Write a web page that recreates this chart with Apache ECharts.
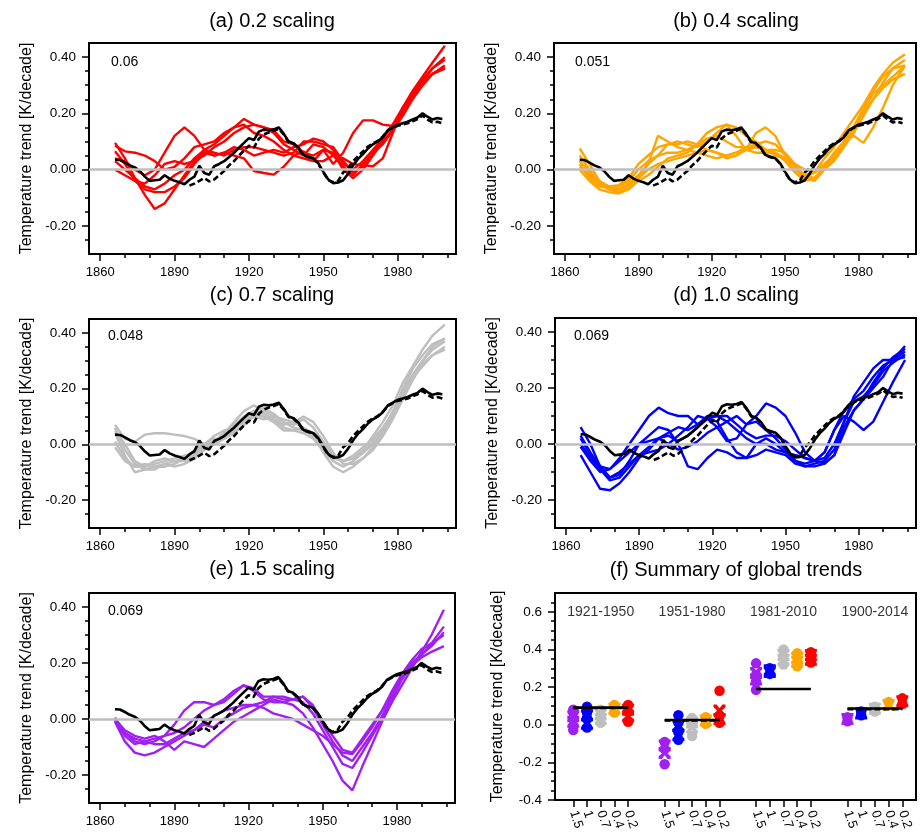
<!DOCTYPE html>
<html><head><meta charset="utf-8">
<script src="https://cdn.jsdelivr.net/npm/echarts@6/dist/echarts.min.js"></script>
<style>html,body{margin:0;padding:0;background:#fff}#c{width:922px;height:833px}</style>
</head><body><div id="c"></div>
<script>
// ================= DATA =================
// sample years for the model runs (30-yr running trends, centre year)
const runYears = [1866,1870,1874,1878,1882,1886,1890,1894,1898,1902,1906,1910,1914,1918,1922,1926,1930,1934,1938,1942,1946,1950,1954,1958,1962,1966,1970,1974,1978,1982,1986,1990,1994,1999];

// observations (black solid from 1866, black dashed from 1896), every 2 years
const obsYears = []; for (let y = 1866; y <= 1998; y += 2) obsYears.push(y);
const obsSolid = [0.035,0.034,0.025,0.015,0.008,-0.005,-0.025,-0.040,-0.038,-0.036,-0.020,-0.032,-0.040,-0.045,-0.052,-0.036,-0.025,0.014,-0.012,-0.018,0.012,0.020,0.030,0.045,0.060,0.078,0.095,0.112,0.105,0.135,0.142,0.140,0.143,0.150,0.128,0.100,0.094,0.078,0.052,0.046,0.040,0.022,-0.008,-0.035,-0.048,-0.046,-0.038,-0.015,0.015,0.038,0.055,0.075,0.090,0.100,0.115,0.140,0.150,0.160,0.165,0.170,0.178,0.185,0.200,0.188,0.178,0.183,0.180];
const obsDashedYears = []; for (let y = 1896; y <= 1998; y += 2) obsDashedYears.push(y);
const obsDashed = [-0.057,-0.050,-0.040,-0.030,-0.042,-0.035,-0.020,-0.005,0.015,0.030,0.050,0.068,0.085,0.078,0.110,0.125,0.132,0.138,0.145,0.125,0.098,0.092,0.075,0.050,0.044,0.040,0.020,-0.010,-0.038,-0.045,-0.040,-0.010,0.005,0.030,0.048,0.065,0.082,0.093,0.102,0.118,0.138,0.148,0.156,0.160,0.165,0.172,0.180,0.192,0.178,0.168,0.170,0.165];

// (a) 0.2 scaling runs
const runs02 = [
 [0.095,0.04,-0.03,-0.09,-0.14,-0.12,-0.07,-0.02,0.03,0.07,0.09,0.12,0.15,0.18,0.16,0.15,0.13,0.09,0.07,0.05,0.09,0.08,0.05,0.01,-0.02,0.02,0.06,0.09,0.14,0.22,0.28,0.33,0.38,0.44],
 [0.04,0.03,0.0,-0.02,0.0,0.06,0.12,0.15,0.12,0.07,0.05,0.06,0.08,0.07,0.05,0.06,0.07,0.06,0.08,0.09,0.11,0.10,0.07,0.02,0.0,0.03,0.07,0.11,0.16,0.21,0.26,0.31,0.36,0.40],
 [0.065,0.02,-0.04,-0.07,-0.08,-0.08,-0.06,-0.03,0.02,0.06,0.05,0.06,0.05,0.04,-0.005,-0.012,-0.018,0.01,0.05,0.065,0.03,0.03,0.05,0.04,0.02,0.015,0.012,0.04,0.13,0.22,0.27,0.32,0.36,0.39],
 [0.085,0.065,0.06,0.05,0.03,0.0,0.01,0.04,0.08,0.09,0.10,0.13,0.15,0.16,0.13,0.12,0.10,0.07,0.05,0.04,0.03,0.07,0.02,0.06,0.13,0.175,0.175,0.16,0.155,0.20,0.26,0.30,0.34,0.36],
 [0.0,-0.02,-0.04,-0.05,-0.02,0.02,0.03,0.02,0.03,0.05,0.08,0.10,0.13,0.15,0.16,0.15,0.14,0.10,0.09,0.06,0.05,0.07,0.06,0.0,-0.03,0.0,0.05,0.10,0.14,0.19,0.25,0.30,0.34,0.37],
 [0.03,0.0,-0.03,-0.06,-0.07,-0.05,-0.02,0.0,0.04,0.07,0.06,0.05,0.07,0.08,0.08,0.07,0.06,0.05,0.06,0.10,0.10,0.09,0.08,0.03,-0.01,0.01,0.06,0.11,0.16,0.22,0.27,0.31,0.34,0.36]
];
// (b) 0.4 scaling runs
const runs04 = [
 [0.075,0.02,-0.04,-0.06,-0.07,-0.05,-0.02,0.02,0.05,0.09,0.10,0.09,0.08,0.10,0.13,0.16,0.15,0.12,0.10,0.07,0.05,0.04,0.0,-0.03,-0.01,0.04,0.08,0.13,0.18,0.23,0.29,0.34,0.38,0.41],
 [0.05,0.0,-0.05,-0.07,-0.08,-0.06,-0.03,0.02,0.12,0.10,0.08,0.07,0.06,0.05,0.04,0.05,0.06,0.07,0.13,0.15,0.12,0.05,0.01,-0.02,-0.03,0.01,0.06,0.10,0.15,0.22,0.28,0.33,0.36,0.37],
 [0.03,-0.01,-0.05,-0.06,-0.055,-0.03,0.02,0.05,0.08,0.09,0.09,0.10,0.09,0.07,0.06,0.05,0.06,0.08,0.08,0.07,0.06,0.04,0.02,-0.03,-0.04,0.0,0.05,0.10,0.12,0.095,0.15,0.22,0.30,0.37],
 [0.02,-0.03,-0.06,-0.065,-0.06,-0.04,0.0,0.03,0.05,0.06,0.06,0.07,0.09,0.11,0.12,0.10,0.08,0.08,0.09,0.10,0.09,0.05,0.01,-0.02,-0.01,0.02,0.05,0.09,0.14,0.20,0.25,0.29,0.32,0.34],
 [0.01,-0.02,-0.05,-0.07,-0.07,-0.05,-0.03,0.0,0.02,0.03,0.04,0.05,0.06,0.07,0.06,0.04,0.05,0.07,0.08,0.07,0.07,0.06,0.02,0.0,-0.01,0.01,0.04,0.09,0.15,0.21,0.27,0.30,0.33,0.37],
 [0.0,-0.04,-0.07,-0.08,-0.085,-0.07,-0.04,-0.02,0.01,0.04,0.05,0.06,0.09,0.13,0.15,0.16,0.12,0.07,0.06,0.06,0.06,0.03,-0.01,-0.04,-0.03,0.0,0.03,0.08,0.13,0.19,0.25,0.31,0.36,0.39]
];
// (c) 0.7 scaling runs
const runs07 = [
 [0.07,0.02,0.01,0.035,0.04,0.04,0.035,0.03,0.02,0.0,0.01,0.04,0.08,0.12,0.14,0.12,0.10,0.08,0.07,0.09,0.06,0.01,-0.04,-0.06,-0.05,-0.02,0.03,0.08,0.14,0.22,0.28,0.34,0.39,0.43],
 [0.06,-0.02,-0.07,-0.09,-0.09,-0.07,-0.06,-0.06,-0.04,-0.01,0.01,0.04,0.07,0.10,0.12,0.11,0.09,0.06,0.05,0.04,0.02,-0.02,-0.06,-0.08,-0.06,-0.03,0.0,0.05,0.12,0.19,0.25,0.30,0.34,0.37],
 [0.04,-0.04,-0.10,-0.09,-0.08,-0.07,-0.08,-0.07,-0.05,-0.02,0.0,0.02,0.05,0.09,0.11,0.10,0.08,0.05,0.05,0.06,0.03,-0.03,-0.08,-0.10,-0.08,-0.05,-0.01,0.04,0.10,0.17,0.24,0.30,0.35,0.38],
 [0.01,-0.05,-0.08,-0.08,-0.07,-0.06,-0.05,-0.04,-0.03,0.0,0.02,0.02,0.04,0.07,0.10,0.09,0.10,0.09,0.08,0.06,0.04,0.0,-0.04,-0.06,-0.05,-0.03,0.01,0.06,0.11,0.18,0.24,0.28,0.32,0.34],
 [-0.01,-0.06,-0.08,-0.07,-0.08,-0.08,-0.07,-0.05,-0.03,-0.01,0.01,0.04,0.06,0.08,0.11,0.10,0.09,0.07,0.08,0.10,0.08,0.03,-0.03,-0.07,-0.07,-0.05,-0.02,0.03,0.09,0.16,0.23,0.29,0.32,0.35],
 [0.05,0.0,-0.06,-0.08,-0.06,-0.05,-0.06,-0.05,-0.02,0.0,0.03,0.05,0.06,0.09,0.12,0.13,0.11,0.08,0.06,0.05,0.03,-0.01,-0.05,-0.06,-0.04,-0.01,0.02,0.06,0.11,0.20,0.27,0.32,0.36,0.38]
];
// (d) 1.0 scaling runs
const runs10 = [
 [0.06,0.0,-0.08,-0.12,-0.11,-0.06,0.0,0.03,0.06,0.05,0.0,-0.08,-0.09,-0.05,-0.02,-0.03,-0.05,-0.05,0.0,0.02,0.0,-0.03,-0.06,-0.07,-0.06,-0.03,0.05,0.12,0.16,0.19,0.24,0.28,0.30,0.33],
 [-0.01,-0.06,-0.10,-0.09,-0.05,0.0,0.05,0.10,0.13,0.11,0.10,0.10,0.07,0.09,0.08,0.02,-0.03,-0.05,-0.04,-0.02,-0.03,-0.04,-0.07,-0.08,-0.07,-0.06,-0.02,0.08,0.15,0.17,0.21,0.26,0.29,0.32],
 [-0.04,-0.10,-0.16,-0.165,-0.14,-0.10,-0.05,-0.02,0.02,0.04,0.06,0.05,0.07,0.10,0.10,0.08,0.05,0.02,0.0,0.0,-0.02,-0.03,-0.04,-0.05,-0.06,-0.05,0.0,0.08,0.17,0.22,0.27,0.30,0.30,0.31],
 [0.02,-0.04,-0.08,-0.09,-0.06,-0.03,0.0,0.01,0.02,0.0,-0.02,-0.01,0.01,0.04,0.06,0.08,0.10,0.07,0.10,0.145,0.13,0.10,0.04,-0.03,-0.06,-0.07,-0.04,0.04,0.12,0.16,0.20,0.24,0.30,0.35],
 [0.03,-0.03,-0.08,-0.12,-0.10,-0.07,-0.04,-0.01,0.02,0.03,0.01,0.03,0.06,0.09,0.10,0.10,0.07,0.04,0.02,0.03,0.03,0.01,-0.02,-0.05,-0.06,-0.03,0.05,0.10,0.08,0.05,0.08,0.15,0.22,0.30],
 [0.0,-0.05,-0.09,-0.13,-0.12,-0.08,-0.04,-0.03,-0.02,0.0,0.03,0.06,0.10,0.09,0.06,0.01,0.02,0.07,0.08,0.05,0.02,-0.02,-0.06,-0.08,-0.08,-0.07,-0.04,0.06,0.12,0.16,0.22,0.27,0.31,0.34]
];
// (e) 1.5 scaling runs
const runs15 = [
 [0.0,-0.05,-0.08,-0.09,-0.08,-0.06,-0.05,-0.03,0.0,0.03,0.05,0.07,0.10,0.12,0.10,0.07,0.06,0.06,0.05,0.02,-0.03,-0.09,-0.15,-0.22,-0.255,-0.17,-0.09,-0.01,0.06,0.12,0.18,0.24,0.30,0.39],
 [-0.01,-0.08,-0.12,-0.13,-0.12,-0.10,-0.08,-0.06,-0.04,-0.01,0.01,0.03,0.04,0.05,0.05,0.06,0.08,0.08,0.07,0.06,0.02,-0.04,-0.10,-0.16,-0.175,-0.12,-0.06,0.0,0.07,0.14,0.19,0.23,0.27,0.33],
 [0.005,-0.05,-0.07,-0.08,-0.07,-0.06,-0.02,0.03,0.06,0.06,0.05,0.06,0.09,0.12,0.11,0.08,0.08,0.07,0.07,0.08,0.04,-0.02,-0.08,-0.13,-0.15,-0.10,-0.05,0.01,0.08,0.15,0.20,0.23,0.26,0.31],
 [-0.005,-0.06,-0.09,-0.08,-0.09,-0.09,-0.07,-0.05,-0.04,-0.02,-0.03,0.0,0.02,0.04,0.05,0.04,0.02,0.01,0.0,-0.02,-0.04,-0.06,-0.09,-0.12,-0.125,-0.08,-0.03,0.03,0.09,0.15,0.19,0.22,0.24,0.26],
 [0.0,-0.04,-0.06,-0.07,-0.06,-0.08,-0.11,-0.08,-0.09,-0.10,-0.07,-0.04,-0.01,0.01,0.03,0.05,0.07,0.06,0.07,0.08,0.05,-0.01,-0.06,-0.11,-0.12,-0.07,-0.02,0.03,0.10,0.16,0.21,0.25,0.27,0.30]
];
const panelTitles = ['(a) 0.2 scaling','(b) 0.4 scaling','(c) 0.7 scaling','(d) 1.0 scaling','(e) 1.5 scaling','(f) Summary of global trends'];
const panelNotes = ['0.06','0.051','0.048','0.069','0.069'];
const xTickYears = [1860,1890,1920,1950,1980];
const xMinorYears = [1870,1880,1900,1910,1930,1940,1960,1970,1990,2000];
const yTicks = [-0.2,0,0.2,0.4];
const yMinor = [-0.25,-0.15,-0.1,-0.05,0.05,0.1,0.15,0.25,0.3,0.35];

// (f) summary of global trends
const sumPeriods = ['1921-1950','1951-1980','1981-2010','1900-2014'];
const sumScalings = ['1.5','1','0.7','0.4','0.2'];
const obsTrendSolid = [0.091,0.025,0.19,0.086];
const obsTrendDashed = [0.089,0.022,null,0.083];
const dots15 = [[0.079,0.065,-0.005,-0.028],[-0.092,-0.13,-0.21],[0.326,0.265,0.23,0.185],[0.04,0.018]];
const cross15 = [[0.045,0.015],[-0.11,-0.15],[0.275,0.24],[0.03]];
const dots10 = [[0.095,0.065,0.035,-0.015],[0.05,0.01,-0.04,-0.08],[0.30,0.27],[0.07,0.05]];
const cross10 = [[0.05,0.005],[-0.005,-0.055],[0.29,0.28],[0.06]];
const dots07 = [[0.08,0.01],[0.035,-0.06],[0.40,0.32],[0.095,0.07]];
const cross07 = [[0.055,0.03],[0.012,-0.015],[0.37,0.345],[0.085]];
const dots04 = [[0.105,0.065],[0.04,0.005],[0.38,0.31],[0.12]];
const cross04 = [[0.085],[0.022],[0.355,0.335],[0.105]];
const dots02 = [[0.105,0.07,0.015],[0.18,0.045,0.01],[0.385,0.33],[0.14,0.11]];
const cross02 = [[0.08,0.045],[0.075,0.03],[0.37,0.345],[0.125]];
const sumYTicks = [-0.4,-0.2,0,0.2,0.4,0.6];
const sumYMinor = [-0.35,-0.3,-0.25,-0.15,-0.1,-0.05,0.05,0.1,0.15,0.25,0.3,0.35,0.45,0.5,0.55,0.65];

// ================= LAYOUT / STYLE =================
const FONT = '"Liberation Sans", Arial, Helvetica, sans-serif';
const COLORS = {r:'#ff0000', o:'#ffa500', g:'#bebebe', b:'#0000ff', p:'#a020f0'};
const panelRuns = [runs02, runs04, runs07, runs10, runs15];
const panelColors = [COLORS.r, COLORS.o, COLORS.g, COLORS.b, COLORS.p];
const boxes = [
  {left:89, top:43, width:367, height:211, tx:272, ty:21, nx:111, ny:62, gap:54},
  {left:554, top:43, width:362, height:211, tx:736, ty:21, nx:575, ny:62, gap:54},
  {left:89, top:319, width:367, height:209, tx:272, ty:295, nx:108, ny:336, gap:54},
  {left:555, top:318, width:361, height:210, tx:736, ty:295, nx:574, ny:336, gap:54},
  {left:89, top:593, width:366, height:210, tx:272, ty:569, nx:108, ny:611, gap:54},
  {left:555, top:593, width:361, height:210, tx:736, ty:570, gap:49}
];
const groupStep = 20, memberStep = 3;
const sumColors = [COLORS.p, COLORS.b, COLORS.g, COLORS.o, COLORS.r];
const sumDots = [dots15, dots10, dots07, dots04, dots02];
const sumCross = [cross15, cross10, cross07, cross04, cross02];
const XPATH = 'path://M0,0 L2.6,0 L5,3 L7.4,0 L10,0 L10,2.2 L7,5 L10,7.8 L10,10 L7.4,10 L5,7 L2.6,10 L0,10 L0,7.8 L3,5 L0,2.2 Z';

const grids = [], xAxes = [], yAxes = [], series = [], graphics = [];
const tickStyle = {color:'#000', width:1.5};

function mkAxes(i, xmin, xmax, xMaj, xMin, xFmt, xRot, ymin, ymax, yMaj, yMin, yFmt, gap) {
  xAxes.push({gridIndex:i, type:'value', position:'bottom', min:xmin, max:xmax,
    axisLine:{show:false, onZero:false}, splitLine:{show:false},
    axisTick:{show:true, length:7, customValues:xMaj, lineStyle:tickStyle},
    axisLabel:{show:true, customValues:xMaj, formatter:xFmt, rotate:xRot, fontSize:13, fontFamily:FONT, color:'#000', margin:xRot ? 11 : 12}});
  xAxes.push({gridIndex:i, type:'value', position:'bottom', min:xmin, max:xmax,
    axisLine:{show:false, onZero:false}, splitLine:{show:false}, axisLabel:{show:false},
    axisTick:{show:xMin.length>0, length:4, customValues:xMin.length?xMin:[xmin], lineStyle:tickStyle}});
  yAxes.push({gridIndex:i, type:'value', position:'left', min:ymin, max:ymax,
    axisLine:{show:false, onZero:false}, splitLine:{show:false},
    axisTick:{show:true, length:7, customValues:yMaj, lineStyle:tickStyle},
    axisLabel:{show:true, customValues:yMaj, formatter:yFmt, fontSize:13.5, fontFamily:FONT, color:'#000', margin:13},
    name:'Temperature trend [K/decade]', nameLocation:'middle', nameGap:gap, nameRotate:90,
    nameTextStyle:{fontSize:16, fontFamily:FONT, color:'#000'}});
  yAxes.push({gridIndex:i, type:'value', position:'left', min:ymin, max:ymax,
    axisLine:{show:false, onZero:false}, splitLine:{show:false}, axisLabel:{show:false},
    axisTick:{show:true, length:4, customValues:yMin, lineStyle:tickStyle}});
}

boxes.forEach((b, i) => {
  grids.push({left:b.left, top:b.top, width:b.width, height:b.height, show:true,
    borderColor:'#000', borderWidth:2, backgroundColor:'rgba(0,0,0,0)'});
  graphics.push({type:'text', x:b.tx, y:b.ty, silent:true,
    style:{text:panelTitles[i], font:'20px ' + FONT, fill:'#000', align:'center', verticalAlign:'middle', textAlign:'center', textVerticalAlign:'middle'}});
});

// line panels
for (let p = 0; p < 5; p++) {
  const b = boxes[p];
  mkAxes(p, 1855.5, 2003.5, xTickYears, xMinorYears, v => String(v), 0,
         -0.3, 0.45, yTicks, yMinor, v => v.toFixed(2), b.gap);
  const xi = 2*p, yi = 2*p;
  series.push({type:'line', xAxisIndex:xi, yAxisIndex:yi, data:[], z:1, silent:true,
    markLine:{silent:true, symbol:'none', label:{show:false}, animation:false,
      lineStyle:{color:'#bebebe', width:2.5, type:'solid'}, data:[{yAxis:0}]}});
  panelRuns[p].forEach(run => {
    series.push({type:'line', xAxisIndex:xi, yAxisIndex:yi, z:2, silent:true,
      showSymbol:false, symbol:'none', lineStyle:{color:panelColors[p], width:2.4},
      data: runYears.map((y, k) => [y, run[k]])});
  });
  series.push({type:'line', xAxisIndex:xi, yAxisIndex:yi, z:3, silent:true,
    showSymbol:false, symbol:'none', lineStyle:{color:'#000', width:2.6, type:[6,3]},
    data: obsDashedYears.map((y, k) => [y, obsDashed[k]])});
  series.push({type:'line', xAxisIndex:xi, yAxisIndex:yi, z:3, silent:true,
    showSymbol:false, symbol:'none', lineStyle:{color:'#000', width:2.6},
    data: obsYears.map((y, k) => [y, obsSolid[k]])});
  graphics.push({type:'text', x:b.nx, y:b.ny, silent:true,
    style:{text:panelNotes[p], font:'14px ' + FONT, fill:'#000', align:'left', verticalAlign:'middle', textAlign:'left', textVerticalAlign:'middle'}});
}

// summary panel
const sumTickPos = [], sumTickLab = {};
sumPeriods.forEach((per, g) => sumScalings.forEach((s, i) => {
  const pos = g*groupStep + i*memberStep; sumTickPos.push(pos); sumTickLab[pos] = s;
}));
mkAxes(5, -4, 75, sumTickPos, [], v => sumTickLab[Math.round(v)] || '', -72,
       -0.4, 0.7, sumYTicks, sumYMinor, v => v.toFixed(1), boxes[5].gap);
sumScalings.forEach((s, i) => {
  const dots = [], crs = [];
  sumPeriods.forEach((per, g) => {
    const pos = g*groupStep + i*memberStep;
    sumDots[i][g].forEach(v => dots.push([pos, v]));
    sumCross[i][g].forEach(v => crs.push([pos, v]));
  });
  series.push({type:'scatter', xAxisIndex:10, yAxisIndex:10, z:2, silent:true,
    symbol:'circle', symbolSize:10.5, itemStyle:{color:sumColors[i], opacity:1}, data:dots});
  series.push({type:'scatter', xAxisIndex:10, yAxisIndex:10, z:2, silent:true,
    symbol:XPATH, symbolSize:12, itemStyle:{color:sumColors[i], opacity:1}, data:crs});
});
sumPeriods.forEach((per, g) => {
  const x0 = g*groupStep, x1 = g*groupStep + 4*memberStep;
  series.push({type:'line', xAxisIndex:10, yAxisIndex:10, z:3, silent:true, symbol:'none',
    lineStyle:{color:'#000', width:2.6}, data:[[x0, obsTrendSolid[g]], [x1, obsTrendSolid[g]]]});
  if (obsTrendDashed[g] !== null) {
    series.push({type:'line', xAxisIndex:10, yAxisIndex:10, z:3, silent:true, symbol:'none',
      lineStyle:{color:'#000', width:2.6, type:[6,3]}, data:[[x0, obsTrendDashed[g]], [x1, obsTrendDashed[g]]]});
  }
  series.push({type:'scatter', xAxisIndex:10, yAxisIndex:10, z:4, silent:true, symbolSize:0,
    data:[[x0 + 2*memberStep, 0.6]],
    label:{show:true, position:'inside', formatter:per, fontSize:14, fontFamily:FONT, color:'#000'}});
});

const chart = echarts.init(document.getElementById('c'), null, {renderer:'canvas', width:922, height:833});
chart.setOption({
  animation:false, backgroundColor:'#ffffff',
  grid:grids, xAxis:xAxes, yAxis:yAxes, series:series, graphic:graphics
});
</script>
</body></html>
